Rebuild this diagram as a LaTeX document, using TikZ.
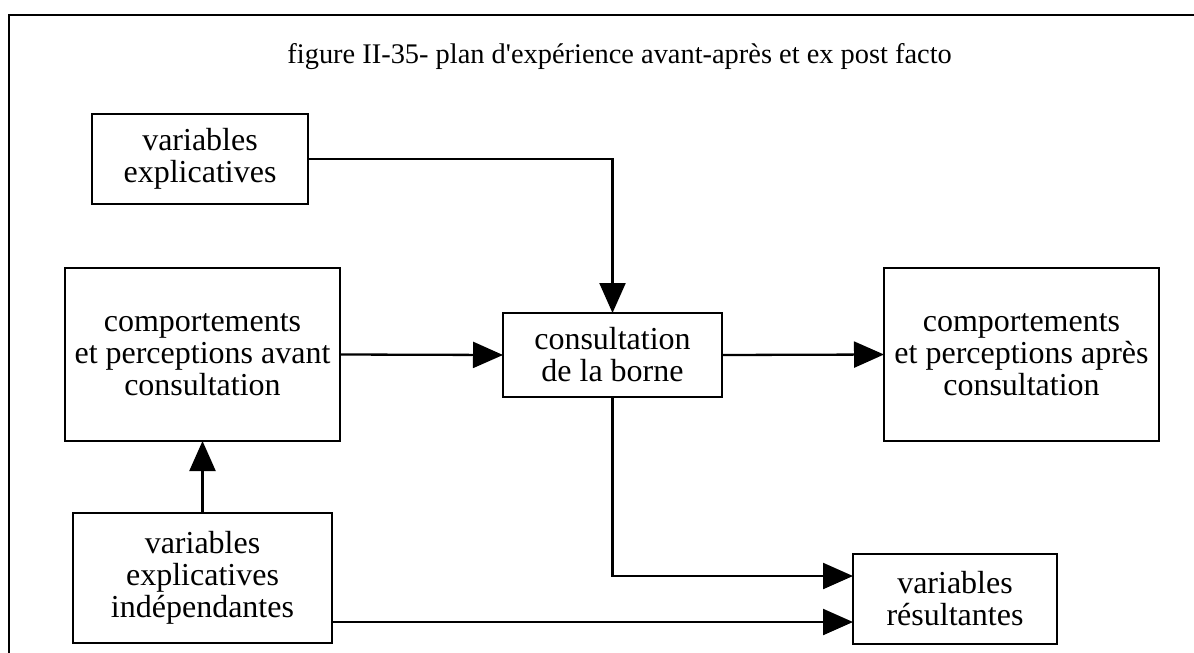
\documentclass[tikz,border=0pt]{standalone}
\usepackage{fontspec}
\setmainfont{Liberation Serif}
\newfontfamily\titlefont{Liberation Serif}
\usetikzlibrary{arrows.meta}
\begin{document}
\begin{tikzpicture}[x=1pt,y=-1pt,
  box/.style={draw, line width=2.6pt, outer sep=0pt, inner sep=0pt, align=center,
              font=\fontsize{32}{32}\selectfont},
  arr/.style={line width=2.3pt, -{Triangle[length=30pt,width=26pt]}},
  link/.style={line width=2.3pt}]
  \useasboundingbox (0,0) rectangle (1194,653);
  % frame
  \draw[line width=2.6pt] (9,653) -- (9,15) -- (1194,15);
  % title
  \node[anchor=base east, inner sep=0pt, font=\titlefont\fontsize{28.4}{30}\selectfont] (title) at (952,63)
    {figure II-35- plan d'expérience avant-après et ex post facto};
  % boxes
  \node[box, minimum width=216pt, minimum height=90pt] (ve) at (200,159) {variables\\explicatives};
  \node[box, minimum width=275pt, minimum height=173pt] (cav) at (202.5,354.5)
    {comportements\\et perceptions avant\\consultation};
  \node[box, minimum width=219pt, minimum height=84pt] (cons) at (612.5,355) {consultation\\de la borne};
  \node[box, minimum width=275pt, minimum height=173pt] (cap) at (1021.5,354.5)
    {comportements\\et perceptions après\\consultation};
  \node[box, minimum width=259pt, minimum height=130pt] (vei) at (202.5,578)
    {variables\\explicatives\\indépendantes};
  \node[box, minimum width=204pt, minimum height=90pt] (vr) at (955,599) {variables\\résultantes};
  % connectors
  \draw[arr] (ve.east) -| (cons.north);
  \draw[arr] (cav.east) -- (cons.west);
  \draw[arr] (cons.east) -- (cap.west);
  \draw[arr] (vei.north) -- (cav.south);
  \coordinate (rhi) at ([yshift=23pt]vr.west);
  \coordinate (rlo) at ([yshift=-23pt]vr.west);
  \draw[arr] (cons.south) |- (rhi);
  \draw[arr] (rlo -| vei.east) -- (rlo);
\end{tikzpicture}
\end{document}
